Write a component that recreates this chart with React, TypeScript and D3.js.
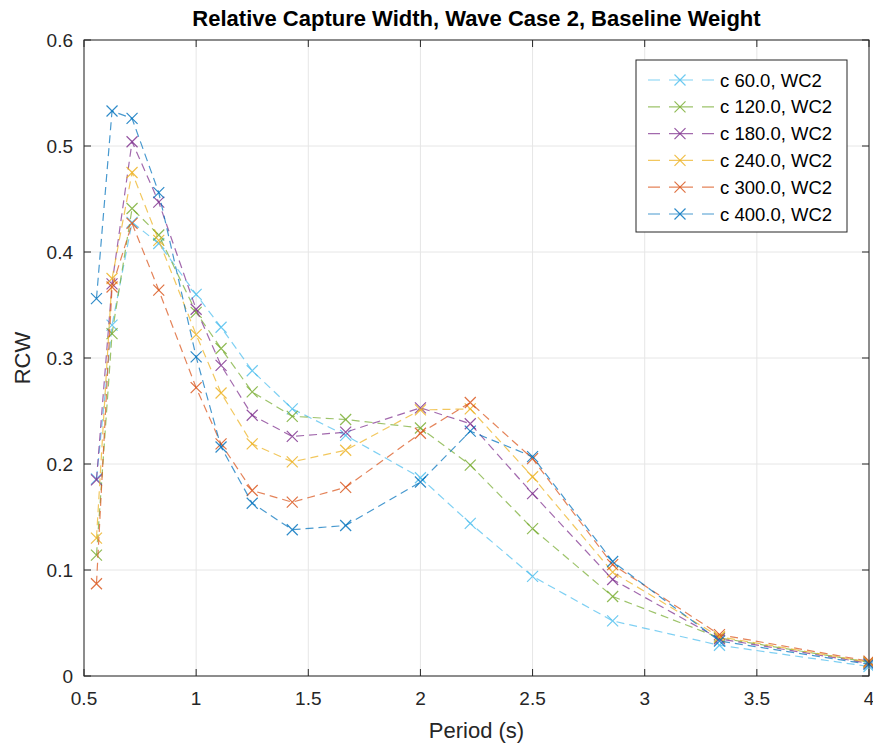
import React from "react";
import * as d3 from "d3";

const periods = [0.5556, 0.625, 0.7143, 0.8333, 1.0, 1.1111, 1.25, 1.4286, 1.6667, 2.0, 2.2222, 2.5, 2.8571, 3.3333, 4.0];

const c60 = [0.186, 0.331, 0.428, 0.408, 0.36, 0.329, 0.288, 0.252, 0.227, 0.187, 0.144, 0.094, 0.052, 0.029, 0.009];
const c120 = [0.114, 0.323, 0.441, 0.416, 0.343, 0.309, 0.268, 0.245, 0.242, 0.234, 0.199, 0.139, 0.075, 0.036, 0.013];
const c180 = [0.185, 0.37, 0.504, 0.447, 0.346, 0.293, 0.246, 0.226, 0.23, 0.253, 0.238, 0.172, 0.091, 0.035, 0.012];
const c240 = [0.13, 0.375, 0.475, 0.411, 0.322, 0.267, 0.219, 0.202, 0.213, 0.251, 0.252, 0.188, 0.098, 0.037, 0.013];
const c300 = [0.087, 0.367, 0.427, 0.364, 0.272, 0.219, 0.175, 0.164, 0.178, 0.229, 0.258, 0.205, 0.105, 0.039, 0.014];
const c400 = [0.356, 0.533, 0.526, 0.456, 0.301, 0.216, 0.163, 0.138, 0.142, 0.183, 0.231, 0.207, 0.108, 0.033, 0.011];

const seriesNames = ["c 60.0, WC2", "c 120.0, WC2", "c 180.0, WC2", "c 240.0, WC2", "c 300.0, WC2", "c 400.0, WC2"];
const seriesValues = [c60, c120, c180, c240, c300, c400];
const seriesColors = ["#4DBEEE", "#77AC30", "#7E2F8E", "#EDB120", "#D95319", "#0072BD"];

const xTicks = [0.5, 1, 1.5, 2, 2.5, 3, 3.5, 4];
const yTicks = [0, 0.1, 0.2, 0.3, 0.4, 0.5, 0.6];

const title = "Relative Capture Width, Wave Case 2, Baseline Weight";
const xLabel = "Period (s)";
const yLabel = "RCW";

const W = 873;
const H = 746;
const left = 84;
const right = 869;
const top = 40;
const bottom = 676;
const FONT = "'Liberation Sans', Arial, Helvetica, sans-serif";
const AX = "#262626";
const OPA = 0.72;

function XMark({ x, y, color, s = 5.5 }: { x: number; y: number; color: string; s?: number }) {
  return (
    <path
      d={`M${x - s},${y - s}L${x + s},${y + s}M${x - s},${y + s}L${x + s},${y - s}`}
      stroke={color}
      strokeWidth={1.2}
      fill="none"
      strokeOpacity={OPA + 0.1}
    />
  );
}

export default function App() {
  const x = d3.scaleLinear().domain([0.5, 4]).range([left, right]);
  const y = d3.scaleLinear().domain([0, 0.6]).range([bottom, top]);
  const line = d3
    .line<number>()
    .x((_, i) => x(periods[i]))
    .y((d) => y(d));

  const tickLen = 7;
  const legX = 636;
  const legY = 60;
  const legW = 211;
  const legH = 172;
  const rowY0 = 80;
  const rowDy = 26.8;

  return (
    <svg width={W} height={H} style={{ position: "absolute", left: 0, top: 0, background: "#fff" }}>
      <rect x={0} y={0} width={W} height={H} fill="#fff" />
      {/* grid */}
      {xTicks.map((t) => (
        <line key={"gx" + t} x1={x(t)} x2={x(t)} y1={top} y2={bottom} stroke="#e6e6e6" strokeWidth={1} />
      ))}
      {yTicks.map((t) => (
        <line key={"gy" + t} x1={left} x2={right} y1={y(t)} y2={y(t)} stroke="#e6e6e6" strokeWidth={1} />
      ))}
      {/* series */}
      {seriesValues.map((vals, si) => (
        <g key={"s" + si}>
          <path
            d={line(vals) || ""}
            fill="none"
            stroke={seriesColors[si]}
            strokeWidth={1.2}
            strokeDasharray="8,5"
            strokeOpacity={OPA}
          />
          {vals.map((v, i) => (
            <XMark key={i} x={x(periods[i])} y={y(v)} color={seriesColors[si]} />
          ))}
        </g>
      ))}
      {/* axes box */}
      <rect x={left} y={top} width={right - left} height={bottom - top} fill="none" stroke={AX} strokeWidth={1} />
      {xTicks.map((t) => (
        <g key={"tx" + t}>
          <line x1={x(t)} x2={x(t)} y1={bottom} y2={bottom - tickLen} stroke={AX} />
          <line x1={x(t)} x2={x(t)} y1={top} y2={top + tickLen} stroke={AX} />
          <text x={x(t)} y={bottom + 29} textAnchor="middle" fontFamily={FONT} fontSize={19} fill={AX}>
            {String(t)}
          </text>
        </g>
      ))}
      {yTicks.map((t) => (
        <g key={"ty" + t}>
          <line x1={left} x2={left + tickLen} y1={y(t)} y2={y(t)} stroke={AX} />
          <line x1={right} x2={right - tickLen} y1={y(t)} y2={y(t)} stroke={AX} />
          <text x={left - 11} y={y(t) + 7} textAnchor="end" fontFamily={FONT} fontSize={19} fill={AX}>
            {String(t)}
          </text>
        </g>
      ))}
      {/* labels */}
      <text x={(left + right) / 2} y={26} textAnchor="middle" fontFamily={FONT} fontSize={22} fontWeight="bold" fill="#000">
        {title}
      </text>
      <text x={(left + right) / 2} y={738} textAnchor="middle" fontFamily={FONT} fontSize={22} fill={AX}>
        {xLabel}
      </text>
      <text
        transform={`translate(30,${(top + bottom) / 2}) rotate(-90)`}
        textAnchor="middle"
        fontFamily={FONT}
        fontSize={22}
        fill={AX}
      >
        {yLabel}
      </text>
      {/* legend */}
      <rect x={legX} y={legY} width={legW} height={legH} fill="#fff" stroke={AX} strokeWidth={1} />
      {seriesNames.map((n, i) => {
        const ry = rowY0 + i * rowDy;
        return (
          <g key={"l" + i}>
            <line x1={648} x2={714} y1={ry} y2={ry} stroke={seriesColors[i]} strokeWidth={1.2} strokeDasharray="12,9,24,9,12" strokeOpacity={OPA} />
            <XMark x={680} y={ry} color={seriesColors[i]} />
            <text x={720} y={ry + 6.5} fontFamily={FONT} fontSize={18.5} fill="#000">
              {n}
            </text>
          </g>
        );
      })}
    </svg>
  );
}
